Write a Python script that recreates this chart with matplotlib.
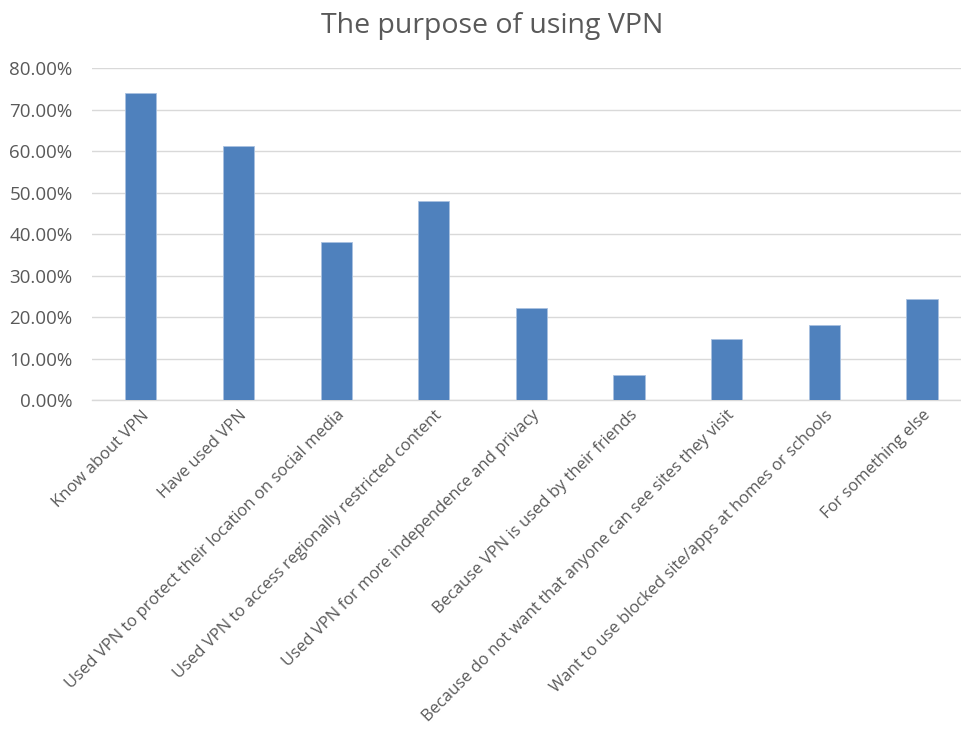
import matplotlib.pyplot as plt
from matplotlib.ticker import FuncFormatter

categories = [
    "Know about VPN",
    "Have used VPN",
    "Used VPN to protect their location on social media",
    "Used VPN to access regionally restricted content",
    "Used VPN for more independence and privacy",
    "Because VPN is used by their friends",
    "Because do not want that anyone can see sites they visit",
    "Want to use blocked site/apps at homes or schools",
    "For something else",
]
shares = [0.741, 0.614, 0.381, 0.480, 0.222, 0.060, 0.147, 0.181, 0.245]

C_BAR = "#4F81BD"
C_TEXT = "#595959"
C_GRID = "#D9D9D9"

plt.rcParams["font.family"] = ["Open Sans", "DejaVu Sans"]

fig = plt.figure(figsize=(9.62, 7.34), dpi=100)
fig.patch.set_facecolor("white")
ax = fig.add_axes([0.0956, 0.4546, 0.9137, 0.4523])

x = range(len(categories))
ax.bar(x, shares, width=0.32, color=C_BAR, edgecolor="#A9C1E0", linewidth=0.6, zorder=3)

ax.set_xlim(-0.5, len(categories) - 0.5)
ax.set_ylim(0, 0.8)
ax.set_yticks([i / 10 for i in range(9)])
ax.yaxis.set_major_formatter(FuncFormatter(lambda v, _: f"{v * 100:.2f}%"))
ax.grid(axis="y", color=C_GRID, lw=1.0, zorder=0)

for s in ["top", "right", "left"]:
    ax.spines[s].set_visible(False)
ax.spines["bottom"].set_color(C_GRID)
ax.spines["bottom"].set_linewidth(1.0)

ax.tick_params(axis="both", length=0, colors=C_TEXT)
ax.tick_params(axis="y", pad=14, labelsize=13.5)
ax.set_xticks(list(x))
ax.set_xticklabels(categories, rotation=45, ha="right", va="top",
                   rotation_mode="anchor", fontsize=12, color=C_TEXT)
ax.tick_params(axis="x", pad=5)

fig.text(0.512, 0.965, "The purpose of using VPN", ha="center", va="center",
         fontsize=20.5, color=C_TEXT)

fig.savefig("out.png", dpi=100, facecolor="white")
